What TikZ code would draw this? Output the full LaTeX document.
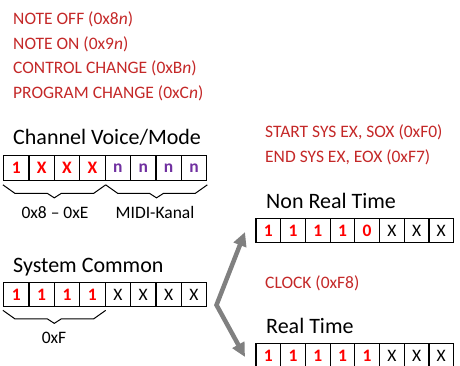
\documentclass[tikz,border=0pt]{standalone}
\usepackage{fontspec}
\setmainfont{Carlito}
\usetikzlibrary{arrows.meta,calc}

\definecolor{labelred}{RGB}{196,40,40}
\definecolor{bitred}{RGB}{255,0,0}
\definecolor{bitpurple}{RGB}{112,48,160}
\definecolor{arrowgray}{RGB}{128,128,128}

% brace drawn with straight segments below a run of cells
\newcommand\lowbrace[2]{%
  \draw[bracket] (#1) -- ++(12,8.5)
    -- ($(#1)!.5!(#2)+(-7,8.5)$) -- ($(#1)!.5!(#2)+(0,13)$)
    -- ($(#1)!.5!(#2)+(7,8.5)$) -- ($(#2)+(-12,8.5)$) -- (#2);}

\begin{document}
\begin{tikzpicture}[x=1pt,y=-1pt,
  bitfont/.style={font=\fontsize{17.5}{20}\selectfont},
  cell/.style={draw, line width=1.2pt, minimum height=24.5pt, inner sep=0pt,
               bitfont},
  cvcell/.style={cell, minimum width=25.4pt},
  rtcell/.style={cell, minimum width=24.7pt},
  one/.style={text=bitred, font=\fontsize{17.5}{20}\selectfont\bfseries},
  purp/.style={text=bitpurple, font=\fontsize{17.5}{20}\selectfont\bfseries},
  plain/.style={text=black},
  msg/.style={text=labelred, anchor=base west, inner sep=0pt,
              font=\fontsize{17.5}{20}\selectfont},
  head/.style={anchor=base west, inner sep=0pt,
               font=\fontsize{22}{26}\selectfont},
  note/.style={anchor=base, inner sep=0pt,
               font=\fontsize{17.5}{20}\selectfont},
  bracket/.style={line width=1pt, line join=round},
  grayarrow/.style={draw=arrowgray, line width=4.5pt, line join=miter,
    {Triangle[length=14pt,width=13pt]}-{Triangle[length=14pt,width=13pt]}}
]
\useasboundingbox (0,0) rectangle (460,366);

% channel message names
\node[msg] (noff) at (13,24.6) {NOTE OFF (0x8\textit{n})};
\node[msg] (non)  at (13,49.1) {NOTE ON (0x9\textit{n})};
\node[msg] (ctrl) at (13,73.9) {CONTROL CHANGE (0xB\textit{n})};
\node[msg] (prog) at (13,98.6) {PROGRAM CHANGE (0xC\textit{n})};

% Channel Voice/Mode status byte
\node[head] (cvhead) at (13,145) {Channel Voice/Mode};
\foreach \i/\b/\s in {1/1/one,2/X/one,3/X/one,4/X/one,
                      5/n/purp,6/n/purp,7/n/purp,8/n/purp}
  \node[cvcell,\s] (cv\i) at ({3.5+(\i-0.5)*25.4},168) {\b};
\coordinate (cvA) at ($(cv1.south west)+(0,4)$);
\coordinate (cvB) at ($(cv4.south east)+(0,4)$);
\coordinate (cvC) at ($(cv8.south east)+(0,4)$);
\lowbrace{cvA}{cvB}
\lowbrace{cvB}{cvC}
\node[note] (cvlo) at (55,218) {0x8 – 0xE};
\node[note] (cvhi) at (155,218) {MIDI-Kanal};

% System Common status byte
\node[head] (schead) at (13,272) {System Common};
\foreach \i/\b/\s in {1/1/one,2/1/one,3/1/one,4/1/one,
                      5/X/plain,6/X/plain,7/X/plain,8/X/plain}
  \node[cvcell,\s] (sc\i) at ({3.5+(\i-0.5)*25.4},294.5) {\b};
\coordinate (scA) at ($(sc1.south west)+(0,3)$);
\coordinate (scB) at ($(sc4.south east)+(0,3)$);
\lowbrace{scA}{scB}
\node[note] (sclo) at (54,343) {0xF};

% system exclusive names
\node[msg] (sox) at (265,138) {START SYS EX, SOX (0xF0)};
\node[msg] (eox) at (265,162.5) {END SYS EX, EOX (0xF7)};

% Non Real Time status byte
\node[head] (nrthead) at (266,208) {Non Real Time};
\foreach \i/\b/\s in {1/1/one,2/1/one,3/1/one,4/1/one,
                      5/0/one,6/X/plain,7/X/plain,8/X/plain}
  \node[rtcell,\s] (nrt\i) at ({256+(\i-0.5)*24.7},230.5) {\b};

% real time message name
\node[msg] (clock) at (265,288) {CLOCK (0xF8)};

% Real Time status byte
\node[head] (rthead) at (266,333) {Real Time};
\foreach \i/\b/\s in {1/1/one,2/1/one,3/1/one,4/1/one,
                      5/1/one,6/X/plain,7/X/plain,8/X/plain}
  \node[rtcell,\s] (rt\i) at ({256+(\i-0.5)*24.7},355.5) {\b};

% fork from System Common into the two subgroups
\coordinate (fork) at (216.5,305);
\coordinate (upTip) at (245,232);
\coordinate (downTip) at (245,357);
\draw[grayarrow] (upTip) -- (fork) -- (downTip);
\end{tikzpicture}
\end{document}
